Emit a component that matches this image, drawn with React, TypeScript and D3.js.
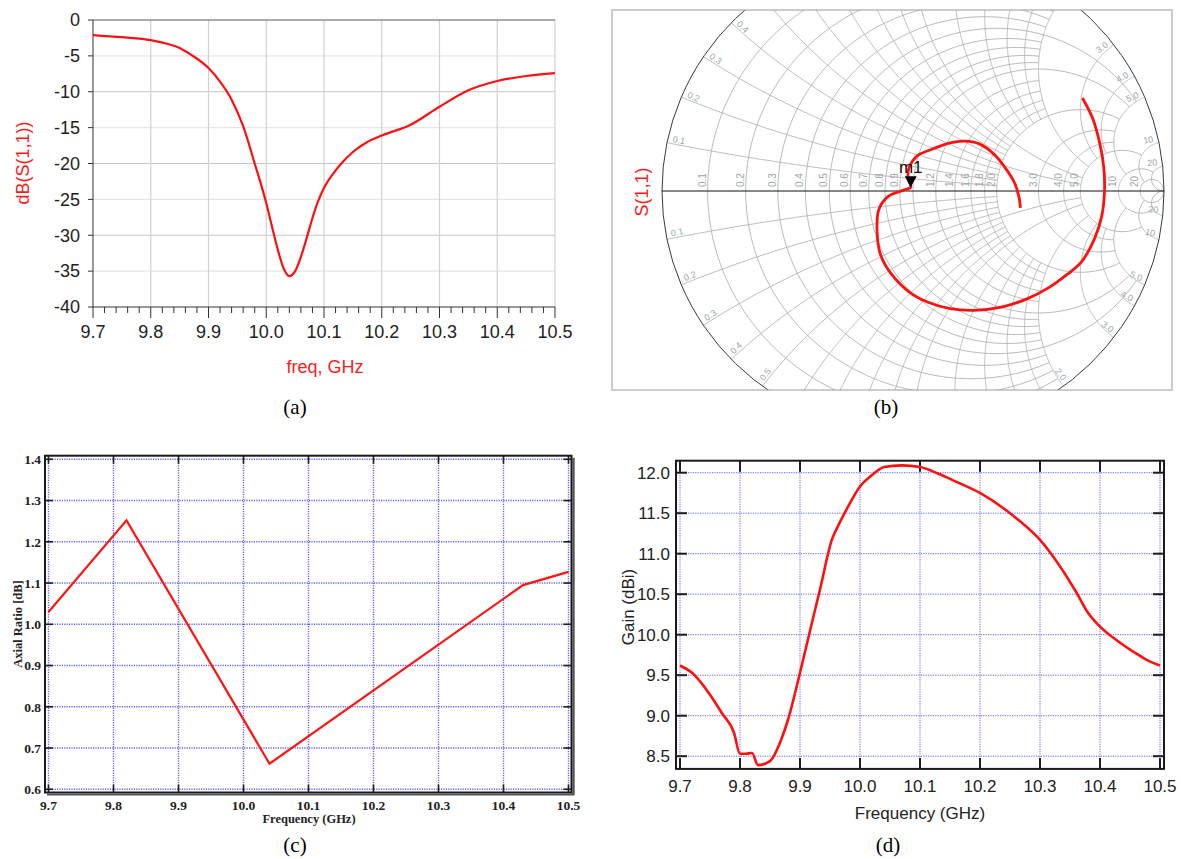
import React, { useEffect, useRef } from "react";
import * as d3 from "d3";

const freqTicks = [9.7, 9.8, 9.9, 10.0, 10.1, 10.2, 10.3, 10.4, 10.5];

// (a) return loss, dB(S(1,1))
const s11Freq = [9.7, 9.75, 9.8, 9.83, 9.85, 9.87, 9.9, 9.92, 9.94, 9.96, 9.98, 10.0, 10.01, 10.02, 10.03, 10.04, 10.05, 10.06, 10.07, 10.08, 10.09, 10.1, 10.115, 10.13, 10.15, 10.175, 10.2, 10.25, 10.3, 10.35, 10.4, 10.45, 10.5];
const s11Db = [-2.1, -2.4, -2.8, -3.35, -3.9, -4.85, -6.7, -8.6, -11.1, -14.8, -20.0, -25.5, -28.8, -32.0, -34.6, -35.7, -35.0, -33.0, -30.4, -27.6, -25.2, -23.4, -21.5, -20.0, -18.4, -17.0, -16.1, -14.6, -12.1, -9.8, -8.5, -7.8, -7.4];
const s11Ticks = [0, -5, -10, -15, -20, -25, -30, -35, -40];

// (b) S(1,1) on the smith chart, reflection coefficient re / im
const smithRe = [0.675, 0.716, 0.745, 0.76, 0.763, 0.752, 0.723, 0.672, 0.614, 0.541, 0.454, 0.352, 0.243, 0.148, 0.06, -0.012, -0.085, -0.129, -0.143, -0.136, -0.1, -0.056, -0.027, -0.009, -0.02, -0.015, 0.017, 0.075, 0.148, 0.206, 0.264, 0.323, 0.366, 0.403, 0.422, 0.428];
const smithIm = [0.381, 0.297, 0.191, 0.097, 0.0, -0.103, -0.196, -0.289, -0.342, -0.396, -0.442, -0.476, -0.489, -0.482, -0.456, -0.416, -0.342, -0.262, -0.169, -0.076, -0.023, -0.003, 0.007, 0.015, 0.057, 0.097, 0.144, 0.171, 0.197, 0.204, 0.193, 0.151, 0.097, 0.037, -0.023, -0.069];
const smithR = [0.1, 0.2, 0.3, 0.4, 0.5, 0.6, 0.7, 0.8, 0.9, 1.0, 1.2, 1.4, 1.6, 1.8, 2.0, 3.0, 4.0, 5.0, 10, 20];
const smithX = [0.1, 0.2, 0.3, 0.4, 0.5, 0.6, 0.7, 0.8, 0.9, 1.0, 1.2, 1.4, 1.6, 1.8, 2.0, 3.0, 4.0, 5.0, 10, 20];

// (c) axial ratio
const arFreq = [9.7, 9.82, 10.04, 10.43, 10.5];
const arDb = [1.03, 1.252, 0.662, 1.095, 1.127];
const arTicks = [0.6, 0.7, 0.8, 0.9, 1.0, 1.1, 1.2, 1.3, 1.4];

// (d) gain
const gainFreq = [9.7, 9.72, 9.75, 9.77, 9.79, 9.8, 9.81, 9.82, 9.83, 9.85, 9.87, 9.88, 9.9, 9.92, 9.934, 9.953, 9.966, 9.98, 10.0, 10.02, 10.04, 10.07, 10.1, 10.13, 10.16, 10.2, 10.26, 10.3, 10.33, 10.36, 10.38, 10.4, 10.43, 10.46, 10.48, 10.5];
const gainDbi = [9.62, 9.53, 9.26, 9.03, 8.79, 8.53, 8.53, 8.54, 8.39, 8.44, 8.73, 8.95, 9.53, 10.15, 10.58, 11.17, 11.38, 11.58, 11.83, 11.97, 12.07, 12.09, 12.07, 11.99, 11.89, 11.75, 11.44, 11.17, 10.88, 10.53, 10.27, 10.1, 9.92, 9.77, 9.68, 9.62];
const gainTicks = [8.5, 9.0, 9.5, 10.0, 10.5, 11.0, 11.5, 12.0];

const SANS = "Liberation Sans, Arial, sans-serif";
const SERIF = "Liberation Serif, Times New Roman, serif";

const PanelA = () => {
  const ref = useRef(null);
  useEffect(() => {
    const g = d3.select(ref.current);
    g.selectAll("*").remove();
    const x = d3.scaleLinear().domain([9.7, 10.5]).range([93, 555]);
    const y = d3.scaleLinear().domain([-40, 0]).range([307, 20]);

    g.selectAll(".hg").data(s11Ticks.slice(1, -1)).join("line")
      .attr("x1", x(9.7)).attr("x2", x(10.5))
      .attr("y1", d => y(d)).attr("y2", d => y(d))
      .attr("stroke", d => (d % 10 === 0 ? "#c6c6c6" : "#e6e6e6"))
      .attr("stroke-width", 1.2);
    g.selectAll(".vg").data(freqTicks.slice(1)).join("line")
      .attr("x1", d => x(d)).attr("x2", d => x(d))
      .attr("y1", y(0)).attr("y2", y(-40))
      .attr("stroke", "#d2d2d2").attr("stroke-width", 1.2);

    g.append("line").attr("x1", x(9.7)).attr("x2", x(10.5)).attr("y1", y(0)).attr("y2", y(0)).attr("stroke", "#5a5a5a");
    g.append("line").attr("x1", x(9.7)).attr("x2", x(9.7)).attr("y1", y(0)).attr("y2", y(-40)).attr("stroke", "#333");
    g.append("line").attr("x1", x(9.7)).attr("x2", x(10.5)).attr("y1", y(-40)).attr("y2", y(-40)).attr("stroke", "#333");

    const minor = d3.range(0, 41).map(i => 9.7 + i * 0.02);
    g.selectAll(".mt").data(minor).join("line")
      .attr("x1", d => x(d)).attr("x2", d => x(d))
      .attr("y1", y(-40)).attr("y2", (d, i) => y(-40) + (i % 5 === 0 ? 11 : 6))
      .attr("stroke", "#333");
    g.selectAll(".yt").data(s11Ticks).join("line")
      .attr("x1", x(9.7) - 5).attr("x2", x(9.7))
      .attr("y1", d => y(d)).attr("y2", d => y(d))
      .attr("stroke", "#333");

    g.selectAll(".yl").data(s11Ticks).join("text")
      .attr("x", 80).attr("y", d => y(d)).attr("dy", "0.35em")
      .attr("text-anchor", "end").attr("font-family", SANS).attr("font-size", 18).attr("fill", "#222")
      .text(d => String(d));
    g.selectAll(".xl").data(freqTicks).join("text")
      .attr("x", d => x(d)).attr("y", 332).attr("dy", "0.35em")
      .attr("text-anchor", "middle").attr("font-family", SANS).attr("font-size", 18).attr("fill", "#222")
      .text(d => d.toFixed(1));

    const line = d3.line().x((d, i) => x(s11Freq[i])).y(d => y(d)).curve(d3.curveMonotoneX);
    g.append("path").attr("d", line(s11Db)).attr("fill", "none").attr("stroke", "#ff1010").attr("stroke-width", 2.2);

    g.append("text").attr("x", 325).attr("y", 367).attr("dy", "0.35em").attr("text-anchor", "middle")
      .attr("font-family", SANS).attr("font-size", 18).attr("fill", "#ff1a1a").text("freq, GHz");
    g.append("text").attr("transform", "translate(23,163) rotate(-90)").attr("dy", "0.35em").attr("text-anchor", "middle")
      .attr("font-family", SANS).attr("font-size", 18).attr("fill", "#ff1a1a").text("dB(S(1,1))");
    g.append("text").attr("x", 295).attr("y", 407).attr("dy", "0.35em").attr("text-anchor", "middle")
      .attr("font-family", SERIF).attr("font-size", 21).attr("fill", "#000").text("(a)");
  }, []);
  return <g ref={ref} />;
};

const fmtSmith = v => (v < 10 ? v.toFixed(1) : String(v));
const rLimit = r => (r === 20 ? 1e6 : r === 10 ? 20 : r === 5 ? 10 : r >= 3 || r === 2 || r === 0.5 || r === 1 ? 5 : 2);
const xLimit = v => (v === 20 ? 1e6 : v === 10 ? 20 : v === 5 ? 10 : v >= 3 || v === 2 || v === 0.5 || v === 1 ? 5 : 2);

const PanelB = () => {
  const ref = useRef(null);
  useEffect(() => {
    const g = d3.select(ref.current);
    g.selectAll("*").remove();
    const frame = { x: 612, y: 10, w: 560, h: 380 };
    const cx = 913, cy = 191, Rx = 251, Ry = 244;
    const gx = d3.scaleLinear().domain([-1, 1]).range([cx - Rx, cx + Rx]);
    const gy = d3.scaleLinear().domain([-1, 1]).range([cy + Ry, cy - Ry]);
    const gamma = (r, xv) => {
      const den = (r + 1) * (r + 1) + xv * xv;
      return [(r * r + xv * xv - 1) / den, (2 * xv) / den];
    };
    const line = d3.line().x(p => gx(p[0])).y(p => gy(p[1]));

    g.append("defs").append("clipPath").attr("id", "smithClip").append("rect")
      .attr("x", frame.x).attr("y", frame.y).attr("width", frame.w).attr("height", frame.h);
    const body = g.append("g").attr("clip-path", "url(#smithClip)");
    const grid = body.append("g").attr("fill", "none").attr("stroke", "#b2b2b2").attr("stroke-width", 0.9);

    smithR.forEach(r => {
      const a = Math.atan(rLimit(r));
      const pts = d3.range(0, 241).map(i => gamma(r, Math.tan(-a + (2 * a * i) / 240)));
      grid.append("path").attr("d", line(pts));
    });
    smithX.forEach(v => {
      const a = Math.atan(xLimit(v));
      [v, -v].forEach(s => {
        const pts = d3.range(0, 241).map(i => gamma(Math.tan((a * i) / 240), s));
        grid.append("path").attr("d", line(pts));
      });
    });

    body.append("ellipse").attr("cx", gx(0)).attr("cy", gy(0)).attr("rx", Rx).attr("ry", Ry)
      .attr("fill", "none").attr("stroke", "#3a3a3a").attr("stroke-width", 1);
    body.append("line").attr("x1", gx(-1)).attr("x2", gx(1)).attr("y1", gy(0)).attr("y2", gy(0))
      .attr("stroke", "#111").attr("stroke-width", 1);

    // resistance labels along the real axis
    body.selectAll(".rl").data(smithR.filter(r => r !== 1)).join("text")
      .attr("transform", r => `translate(${gx((r - 1) / (r + 1)) - 2},${gy(0) - 4}) rotate(-90)`)
      .attr("font-family", SANS).attr("font-size", 10).attr("fill", "#9aa6aa")
      .text(r => fmtSmith(r));

    // reactance labels on the rim
    const rim = [];
    smithX.forEach(v => [v, -v].forEach(s => rim.push(s)));
    rim.forEach(s => {
      const p = gamma(0, s);
      const th = Math.atan2(p[1], p[0]);
      const px = gx(p[0] * 0.98), py = gy(p[1] * 0.98);
      if (px < frame.x + 4 || px > frame.x + frame.w - 4 || py < frame.y + 4 || py > frame.y + frame.h - 4) return;
      let ang = (Math.atan2(Math.sin(th), -Math.cos(th)) * 180) / Math.PI;
      let anchor = "start";
      if (Math.cos((ang * Math.PI) / 180) < 0) { ang += 180; anchor = "end"; }
      body.append("text").attr("transform", `translate(${px},${py}) rotate(${ang})`)
        .attr("text-anchor", anchor).attr("dy", "-0.2em")
        .attr("font-family", SANS).attr("font-size", 9).attr("fill", "#9aa6aa")
        .text(fmtSmith(Math.abs(s)));
    });

    const pts = smithRe.map((re, i) => [re, smithIm[i]]);
    const curve = d3.line().x(p => gx(p[0])).y(p => gy(p[1])).curve(d3.curveCatmullRom);
    body.append("path").attr("d", curve(pts)).attr("fill", "none").attr("stroke", "#ff1010").attr("stroke-width", 2.8);

    const mi = d3.minIndex(pts, p => p[0] * p[0] + p[1] * p[1]);
    const mx = gx(pts[mi][0]), my = gy(pts[mi][1]);
    body.append("path").attr("d", `M${mx - 6},${my - 11}L${mx + 6},${my - 11}L${mx},${my}Z`).attr("fill", "#000");
    body.append("text").attr("x", mx).attr("y", my - 14).attr("text-anchor", "middle")
      .attr("font-family", SANS).attr("font-size", 17).attr("fill", "#111").text("m1");

    g.append("rect").attr("x", frame.x).attr("y", frame.y).attr("width", frame.w).attr("height", frame.h)
      .attr("fill", "none").attr("stroke", "#9a9a9a").attr("stroke-width", 1);
    g.append("text").attr("transform", "translate(642,192) rotate(-90)").attr("dy", "0.35em").attr("text-anchor", "middle")
      .attr("font-family", SANS).attr("font-size", 18).attr("fill", "#ff1a1a").text("S(1,1)");
    g.append("text").attr("x", 886).attr("y", 407).attr("dy", "0.35em").attr("text-anchor", "middle")
      .attr("font-family", SERIF).attr("font-size", 21).attr("fill", "#000").text("(b)");
  }, []);
  return <g ref={ref} />;
};

// shared frame / dotted grid / inward ticks used by (c) and (d)
const drawBoxed = (g, x, y, xTicks, yTicks, box, tickLen, tickW, gridW) => {
  const grid = g.append("g").attr("stroke", "#6262ff").attr("stroke-width", gridW).attr("stroke-dasharray", "1.2,1.2");
  grid.selectAll(".vg").data(xTicks).join("line")
    .attr("x1", d => x(d)).attr("x2", d => x(d)).attr("y1", box.y0).attr("y2", box.y1);
  grid.selectAll(".hg").data(yTicks).join("line")
    .attr("x1", box.x0).attr("x2", box.x1).attr("y1", d => y(d)).attr("y2", d => y(d));
  const ticks = g.append("g").attr("stroke", "#1e1e1e").attr("stroke-width", tickW);
  ticks.selectAll(".tt").data(xTicks).join("line")
    .attr("x1", d => x(d)).attr("x2", d => x(d)).attr("y1", box.y0).attr("y2", box.y0 + tickLen);
  ticks.selectAll(".bt").data(xTicks).join("line")
    .attr("x1", d => x(d)).attr("x2", d => x(d)).attr("y1", box.y1).attr("y2", box.y1 - tickLen);
  ticks.selectAll(".lt").data(yTicks).join("line")
    .attr("x1", box.x0).attr("x2", box.x0 + tickLen).attr("y1", d => y(d)).attr("y2", d => y(d));
  ticks.selectAll(".rt").data(yTicks).join("line")
    .attr("x1", box.x1).attr("x2", box.x1 - tickLen).attr("y1", d => y(d)).attr("y2", d => y(d));
};

const PanelC = () => {
  const ref = useRef(null);
  useEffect(() => {
    const g = d3.select(ref.current);
    g.selectAll("*").remove();
    const x = d3.scaleLinear().domain([9.7, 10.5]).range([48.5, 568.5]);
    const y = d3.scaleLinear().domain([0.6, 1.4]).range([789.3, 459.3]);
    const box = { x0: 45, x1: 571.5, y0: 455.7, y1: 792.5 };
    drawBoxed(g, x, y, freqTicks, arTicks, box, 8, 1.6, 1.4);

    const line = d3.line().x((d, i) => x(arFreq[i])).y(d => y(d));
    g.append("path").attr("d", line(arDb)).attr("fill", "none").attr("stroke", "#ff1414").attr("stroke-width", 2.2);

    g.append("rect").attr("x", box.x0).attr("y", box.y0).attr("width", box.x1 - box.x0).attr("height", box.y1 - box.y0)
      .attr("fill", "none").attr("stroke", "#1a1a1a").attr("stroke-width", 2);
    g.append("line").attr("x1", box.x1 + 2).attr("x2", box.x1 + 2).attr("y1", box.y0 + 2).attr("y2", box.y1 + 2)
      .attr("stroke", "#555").attr("stroke-width", 2.4);
    g.append("line").attr("x1", box.x0 + 2).attr("x2", box.x1 + 3).attr("y1", box.y1 + 2).attr("y2", box.y1 + 2)
      .attr("stroke", "#555").attr("stroke-width", 2);

    g.selectAll(".yl").data(arTicks).join("text")
      .attr("x", 41).attr("y", d => y(d)).attr("dy", "0.35em").attr("text-anchor", "end")
      .attr("font-family", SERIF).attr("font-weight", "bold").attr("font-size", 13.5).attr("fill", "#222")
      .text(d => d.toFixed(1));
    g.selectAll(".xl").data(freqTicks).join("text")
      .attr("x", d => x(d)).attr("y", 805).attr("dy", "0.35em").attr("text-anchor", "middle")
      .attr("font-family", SERIF).attr("font-weight", "bold").attr("font-size", 13.5).attr("fill", "#222")
      .text(d => d.toFixed(1));
    g.append("text").attr("x", 309).attr("y", 819).attr("dy", "0.35em").attr("text-anchor", "middle")
      .attr("font-family", SERIF).attr("font-weight", "bold").attr("font-size", 12.5).attr("fill", "#222")
      .text("Frequency (GHz)");
    g.append("text").attr("transform", "translate(18,624) rotate(-90)").attr("dy", "0.35em").attr("text-anchor", "middle")
      .attr("font-family", SERIF).attr("font-weight", "bold").attr("font-size", 12.5).attr("fill", "#222")
      .text("Axial Ratio [dB]");
    g.append("text").attr("x", 295).attr("y", 845).attr("dy", "0.35em").attr("text-anchor", "middle")
      .attr("font-family", SERIF).attr("font-size", 21).attr("fill", "#000").text("(c)");
  }, []);
  return <g ref={ref} />;
};

const PanelD = () => {
  const ref = useRef(null);
  useEffect(() => {
    const g = d3.select(ref.current);
    g.selectAll("*").remove();
    const x = d3.scaleLinear().domain([9.7, 10.5]).range([680, 1160]);
    const y = d3.scaleLinear().domain([8.5, 12.0]).range([756.2, 472.7]);
    const box = { x0: 676, x1: 1164, y0: 460.7, y1: 768.9 };
    drawBoxed(g, x, y, freqTicks, gainTicks, box, 11, 2, 1);

    const line = d3.line().x((d, i) => x(gainFreq[i])).y(d => y(d)).curve(d3.curveMonotoneX);
    g.append("path").attr("d", line(gainDbi)).attr("fill", "none").attr("stroke", "#ff1010").attr("stroke-width", 2.6);

    g.append("rect").attr("x", box.x0).attr("y", box.y0).attr("width", box.x1 - box.x0).attr("height", box.y1 - box.y0)
      .attr("fill", "none").attr("stroke", "#1a1a1a").attr("stroke-width", 2);

    g.selectAll(".yl").data(gainTicks).join("text")
      .attr("x", 670).attr("y", d => y(d)).attr("dy", "0.35em").attr("text-anchor", "end")
      .attr("font-family", SANS).attr("font-size", 17).attr("fill", "#222")
      .text(d => d.toFixed(1));
    g.selectAll(".xl").data(freqTicks).join("text")
      .attr("x", d => x(d)).attr("y", 786).attr("dy", "0.35em").attr("text-anchor", "middle")
      .attr("font-family", SANS).attr("font-size", 17).attr("fill", "#222")
      .text(d => d.toFixed(1));
    g.append("text").attr("x", 920).attr("y", 813).attr("dy", "0.35em").attr("text-anchor", "middle")
      .attr("font-family", SANS).attr("font-size", 17).attr("fill", "#222").text("Frequency (GHz)");
    g.append("text").attr("transform", "translate(628,607) rotate(-90)").attr("dy", "0.35em").attr("text-anchor", "middle")
      .attr("font-family", SANS).attr("font-size", 17).attr("fill", "#222").text("Gain (dBi)");
    g.append("text").attr("x", 888).attr("y", 845).attr("dy", "0.35em").attr("text-anchor", "middle")
      .attr("font-family", SERIF).attr("font-size", 21).attr("fill", "#000").text("(d)");
  }, []);
  return <g ref={ref} />;
};

const App = () => {
  return (
    <svg width={1181} height={859} style={{ position: "absolute", left: 0, top: 0, background: "#fff" }}>
      <rect width={1181} height={859} fill="#fff" />
      <PanelA />
      <PanelB />
      <PanelC />
      <PanelD />
    </svg>
  );
};

export default App;
